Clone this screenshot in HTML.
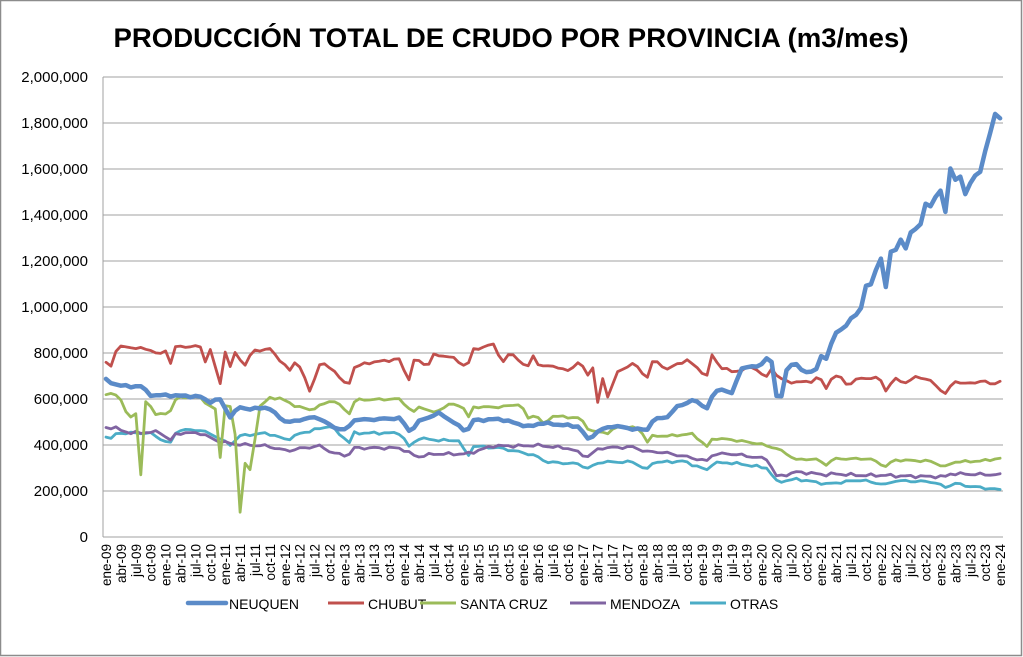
<!DOCTYPE html>
<html><head><meta charset="utf-8"><style>
html,body{margin:0;padding:0;background:#fff}
svg{display:block;font-family:"Liberation Sans",Arial,sans-serif}
</style></head><body>
<svg id="s" width="1023" height="657" viewBox="0 0 1023 657" xmlns="http://www.w3.org/2000/svg">
<rect x="0.5" y="0.5" width="1021" height="655" fill="#fff" stroke="#8c8c8c" stroke-width="1.5"/>
<text x="511" y="47" text-anchor="middle" font-size="27" font-weight="bold" textLength="795" lengthAdjust="spacingAndGlyphs">PRODUCCIÓN TOTAL DE CRUDO POR PROVINCIA (m3/mes)</text>
<g id="grid"></g>
<g id="series" fill="none" stroke-linejoin="round" stroke-linecap="round"></g>
<g font-size="14" fill="#000">
<line x1="188" y1="603" x2="226" y2="603" stroke="#5b8bc8" stroke-width="4.5" stroke-linecap="round"/><text x="229" y="609">NEUQUEN</text>
<line x1="328" y1="603" x2="364" y2="603" stroke="#c0504d" stroke-width="3"/><text x="368" y="609">CHUBUT</text>
<line x1="420" y1="603" x2="456" y2="603" stroke="#9bbb59" stroke-width="3"/><text x="460" y="609">SANTA CRUZ</text>
<line x1="570" y1="603" x2="606" y2="603" stroke="#8064a2" stroke-width="3"/><text x="610" y="609">MENDOZA</text>
<line x1="690" y1="603" x2="726" y2="603" stroke="#4bacc6" stroke-width="3"/><text x="730" y="609">OTRAS</text>
</g>
</svg>
<script>
var NS="http://www.w3.org/2000/svg",svg=document.getElementById('s');
function el(t,a,p){var e=document.createElementNS(NS,t);for(var k in a)e.setAttribute(k,a[k]);(p||svg).appendChild(e);return e;}
var g=document.getElementById('grid'),X0=103,X1=1003;
function Y(v){return 537-v/2000*460;}
for(var i=0;i<=10;i++){var v=i*200,y=Y(v);
 el('line',{x1:X0,x2:X1,y1:y,y2:y,stroke:'#a0a0a0','stroke-width':1},g);
 var t=el('text',{x:88,y:y+5,'text-anchor':'end','font-size':15},g);
 t.textContent=v==0?'0':(v*1000).toLocaleString('en-US');}
el('line',{x1:X0,x2:X0,y1:77,y2:537,stroke:'#a0a0a0'},g);
var mn=['ene','abr','jul','oct'];
function xm(m){return 106+m*4.967;}
for(var m=0;m<=180;m+=3){var yr=9+Math.floor(m/12),lab=mn[(m%12)/3]+'-'+(yr<10?'0'+yr:yr);
 var x=xm(m)+5;var t=el('text',{transform:'translate('+x+',544) rotate(-90)','text-anchor':'end','font-size':13.5},g);t.textContent=lab;}
var S=[
['#5b8bc8',4.5,[[106,683],[110,670],[130,652],[140,660],[150,617],[175,615],[200,610],[210,587],[220,600],[230,522],[240,565],[250,555],[267,565],[287,496],[300,510],[317,522],[333,478],[347,463],[353,510],[367,510],[400,517],[410,457],[420,507],[440,539],[467,457],[473,507],[500,513],[530,478],[540,496],[580,480],[587,422],[600,465],[613,483],[633,470],[647,465],[653,509],[667,522],[677,565],[693,596],[707,561],[713,617],[720,648],[733,620],[740,735],[755,740],[763,756],[768,783],[770,804],[777,604],[783,615],[787,739],[797,757],[803,713],[815,722],[823,800],[828,760],[833,887],[843,900],[853,965],[860,970],[866,1096],[872,1100],[880,1226],[886,1087],[890,1239],[897,1250],[902,1304],[905,1250],[910,1320],[916,1340],[922,1365],[926,1465],[930,1430],[940,1517],[945,1400],[950,1604],[954,1540],[959,1590],[965,1491],[978,1596],[983,1580],[986,1717],[989,1730],[995,1843],[1002,1813]],5,1],
['#c0504d',2.8,[[100,800],[110,730],[117,826],[127,826],[150,815],[160,790],[165,820],[170,748],[175,826],[200,830],[205,761],[210,820],[220,661],[225,810],[230,735],[233,810],[245,748],[253,810],[270,817],[290,722],[297,775],[300,740],[310,630],[320,757],[333,730],[348,648],[353,735],[367,757],[400,774],[408,674],[415,780],[427,740],[433,791],[450,785],[467,739],[473,813],[493,839],[503,760],[510,800],[517,780],[527,730],[533,790],[540,739],[553,745],[567,720],[580,765],[587,700],[593,740],[598,574],[602,700],[607,604],[617,713],[633,757],[647,691],[653,770],[667,730],[687,770],[707,700],[712,791],[720,740],[733,717],[753,740],[767,691],[772,740],[777,700],[787,674],[810,674],[820,700],[825,630],[830,690],[840,700],[847,660],[860,691],[880,690],[887,626],[893,690],[907,670],[917,700],[930,680],[947,617],[953,680],[967,665],[983,680],[990,665],[1002,678]],6,2],
['#9bbb59',2.8,[[100,609],[113,630],[120,600],[130,509],[135,596],[140,217],[146,609],[155,530],[170,543],[177,609],[200,609],[210,565],[215,570],[220,335],[225,574],[230,560],[233,600],[240,104],[245,322],[250,287],[260,570],[270,604],[280,604],[293,574],[310,552],[333,596],[350,535],[355,596],[400,600],[413,539],[420,570],[433,539],[450,578],[463,570],[467,504],[473,565],[500,565],[520,578],[530,504],[535,540],[543,491],[553,526],[580,517],[590,461],[607,452],[620,483],[640,470],[647,413],[653,440],[667,439],[693,448],[707,392],[713,430],[733,422],[760,405],[767,396],[777,385],[797,335],[815,340],[827,313],[833,340],[870,340],[887,304],[893,335],[930,330],[945,304],[953,326],[980,330],[1002,343]],5,3],
['#8064a2',2.8,[[100,478],[115,474],[130,452],[160,457],[170,418],[177,452],[200,452],[217,418],[233,404],[267,396],[287,374],[300,385],[320,396],[333,365],[348,352],[353,387],[400,387],[417,348],[433,361],[467,361],[493,396],[527,396],[533,400],[570,385],[587,348],[600,387],[633,391],[647,370],[660,370],[683,352],[707,330],[713,361],[733,361],[767,339],[777,261],[797,283],[827,270],[833,275],[860,268],[887,268],[900,265],[945,262],[950,275],[1002,270]],7,4],
['#4bacc6',2.8,[[100,465],[110,422],[117,452],[150,452],[170,404],[177,465],[200,465],[215,440],[230,400],[240,440],[267,452],[287,422],[300,450],[330,483],[350,409],[353,452],[400,452],[410,387],[417,430],[440,420],[460,420],[467,343],[473,395],[500,387],[533,357],[547,326],[580,317],[587,296],[600,326],[633,326],[647,291],[653,326],[667,326],[683,330],[707,291],[713,322],[733,322],[767,300],[777,239],[797,252],[827,230],[860,248],[887,226],[893,245],[933,240],[947,213],[953,235],[967,222],[1002,204]],6,5]];
var sg=document.getElementById('series');
function interp(k,x){if(x<=k[0][0])return k[0][1];for(var i=0;i<k.length-1;i++){if(x<=k[i+1][0]){var a=k[i],b=k[i+1],f=(x-a[0])/(b[0]-a[0]||1);return a[1]+f*(b[1]-a[1]);}}return k[k.length-1][1];}
[4,3,2,1,0].forEach(function(s){var d=S[s],k=d[2],pts=[];
 for(var m=0;m<=180;m++){var x=xm(m);
  var v=interp(k,x)+d[3]*(Math.sin(m*1.7+d[4])*0.6+Math.sin(m*3.1+d[4]*2)*0.4);
  pts.push(x.toFixed(1)+','+Y(v).toFixed(1));}
 el('polyline',{points:pts.join(' '),stroke:d[0],'stroke-width':d[1]},sg);});
</script>
</body></html>
